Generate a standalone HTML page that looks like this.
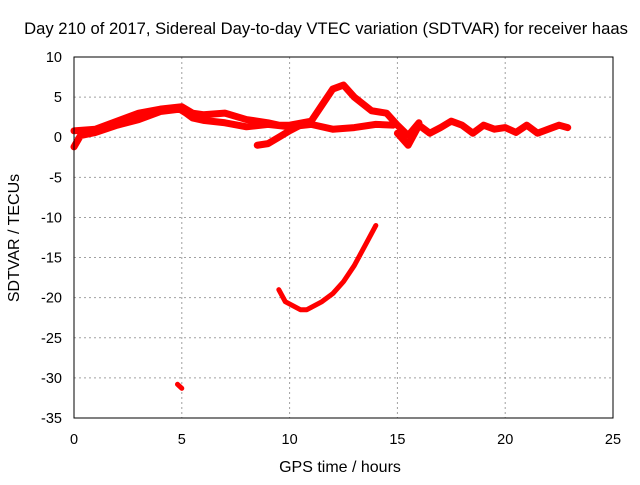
<!DOCTYPE html>
<html><head><meta charset="utf-8"><style>
body{margin:0;background:#fff}
svg text{font-family:"Liberation Sans",sans-serif;font-size:14.5px;fill:#000}
</style></head><body>
<svg id="c" width="640" height="480">
<text x="326" y="34" text-anchor="middle" style="font-size:16.6px">Day 210 of 2017, Sidereal Day-to-day VTEC variation (SDTVAR) for receiver haas</text>
<text x="340" y="472" text-anchor="middle" style="font-size:16px">GPS time / hours</text>
<text transform="translate(19,238) rotate(-90)" text-anchor="middle" style="font-size:16px">SDTVAR / TECUs</text>
<g id="grid"></g><g id="marks"></g>
<rect x="74" y="57" width="539" height="361" fill="none" stroke="#000"/>
</svg>
<script>
const xTicks=[0,5,10,15,20,25];
const yTicks=[10,5,0,-5,-10,-15,-20,-25,-30,-35];
const seriesA=[[0,-1.2],[0.3,0.2],[1,0.6],[2,1.5],[3,2.2],[4,3.2],[4.9,3.5],[5.2,3.0],[5.5,2.4],[6,2.1],[7,1.8],[8,1.3],[9,1.6],[10,1.3],[11,1.6],[12,1.0],[13,1.2],[14,1.6],[14.8,1.5]];
const seriesB=[[0,0.8],[1,1.0],[2,2.0],[3,3.0],[4,3.5],[5,3.8],[5.5,3.0],[6,2.8],[7,3.0],[8,2.2],[9,1.8],[9.5,1.5],[10,1.5],[11,2.0],[11.5,4.0],[12,6.0],[12.5,6.5],[13,5.0],[13.8,3.3],[14.5,3.0],[15,1.5],[15.5,0.2],[16,1.8]];
const seriesC=[[8.5,-1.0],[9,-0.8],[9.5,0],[10,0.8],[10.5,1.5]];
const seriesD=[[15,0.5],[15.5,-1.0],[16,1.5],[16.5,0.5],[17,1.2],[17.5,2.0],[18,1.5],[18.5,0.5],[19,1.5],[19.5,1.0],[20,1.2],[20.5,0.6],[21,1.5],[21.5,0.5],[22,1.0],[22.5,1.5],[22.9,1.2]];
const seriesE=[[9.5,-19],[9.8,-20.5],[10.5,-21.5],[10.8,-21.5],[11.5,-20.5],[12,-19.5],[12.5,-18],[13,-16],[13.5,-13.5],[14,-11]];
const seriesF=[[4.8,-30.8],[5,-31.3]];
const X=v=>74+v*539/25, Y=v=>57+(10-v)*361/45;
const NS="http://www.w3.org/2000/svg", svg=document.getElementById('c');
const g=document.getElementById('grid'), m=document.getElementById('marks');
function mk(t,a,p){const e=document.createElementNS(NS,t);for(const k in a)e.setAttribute(k,a[k]);p.appendChild(e);return e;}
xTicks.forEach(t=>{
 if(t>0&&t<25){const l=mk('line',{x1:X(t),x2:X(t),y1:57,y2:418,stroke:'#a0a0a0','stroke-dasharray':'2,3'},g);
 
 }
 const tx=mk('text',{x:X(t),y:444,'text-anchor':'middle'},svg);tx.textContent=t;
 
 
});
yTicks.forEach(t=>{
 if(t<10&&t>-35){const l=mk('line',{x1:74,x2:613,y1:Y(t),y2:Y(t),stroke:'#a0a0a0','stroke-dasharray':'2,3'},g);
 
 }
 const tx=mk('text',{x:62,y:Y(t)+5,'text-anchor':'end'},svg);tx.textContent=t;
 
 
});
[seriesA,seriesB,seriesC,seriesD,seriesE,seriesF].forEach((s,i)=>{
 const p=mk('polyline',{points:s.map(d=>X(d[0])+','+Y(d[1])).join(' '),fill:'none',stroke:'#ff0000','stroke-width':i<4?7:5,'stroke-linejoin':'round','stroke-linecap':'round'},m);
 
 
});
</script>
</body></html>
